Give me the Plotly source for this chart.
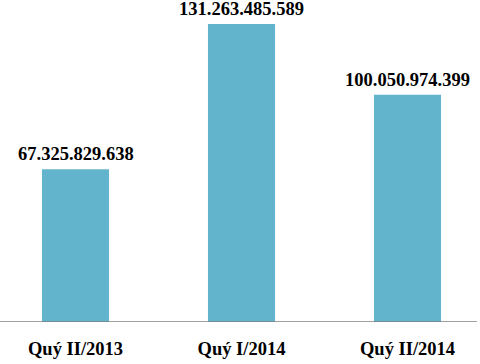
import plotly.graph_objects as go

categories = ["Quý II/2013", "Quý I/2014", "Quý II/2014"]
values = [67325829638, 131263485589, 100050974399]
value_labels = ["67.325.829.638", "131.263.485.589", "100.050.974.399"]

xpos = list(range(len(categories)))
font = dict(family="Liberation Serif, Times New Roman, serif", size=18.5, color="#000000", weight="bold")

fig = go.Figure()
fig.add_trace(go.Bar(x=xpos, y=values, width=0.404, marker=dict(color="#62B4CC", line=dict(width=0)),
                     hoverinfo="skip"))

for x, v, t in zip(xpos, values, value_labels):
    fig.add_annotation(x=x, y=v, text=t, showarrow=False, yanchor="bottom", yshift=3, font=font)

fig.add_shape(type="line", xref="paper", yref="y", x0=0, x1=0.99375, y0=0, y1=0,
              line=dict(color="#808080", width=1.5))

fig.update_layout(
    width=480, height=364,
    margin=dict(l=0, r=0, t=0, b=42),
    paper_bgcolor="white", plot_bgcolor="white",
    showlegend=False,
    xaxis=dict(range=[-0.4548, 2.4367], tickvals=xpos, ticktext=categories, tickfont=font,
               showgrid=False, zeroline=False, showline=False, ticks="", ticklabelstandoff=13),
    yaxis=dict(range=[0, 141.84e9], visible=False, showgrid=False, zeroline=False),
)

fig.write_html("out.html", config={"displayModeBar": False, "staticPlot": True},
               post_script="document.body.style.margin='0px';document.body.style.padding='0px';")
